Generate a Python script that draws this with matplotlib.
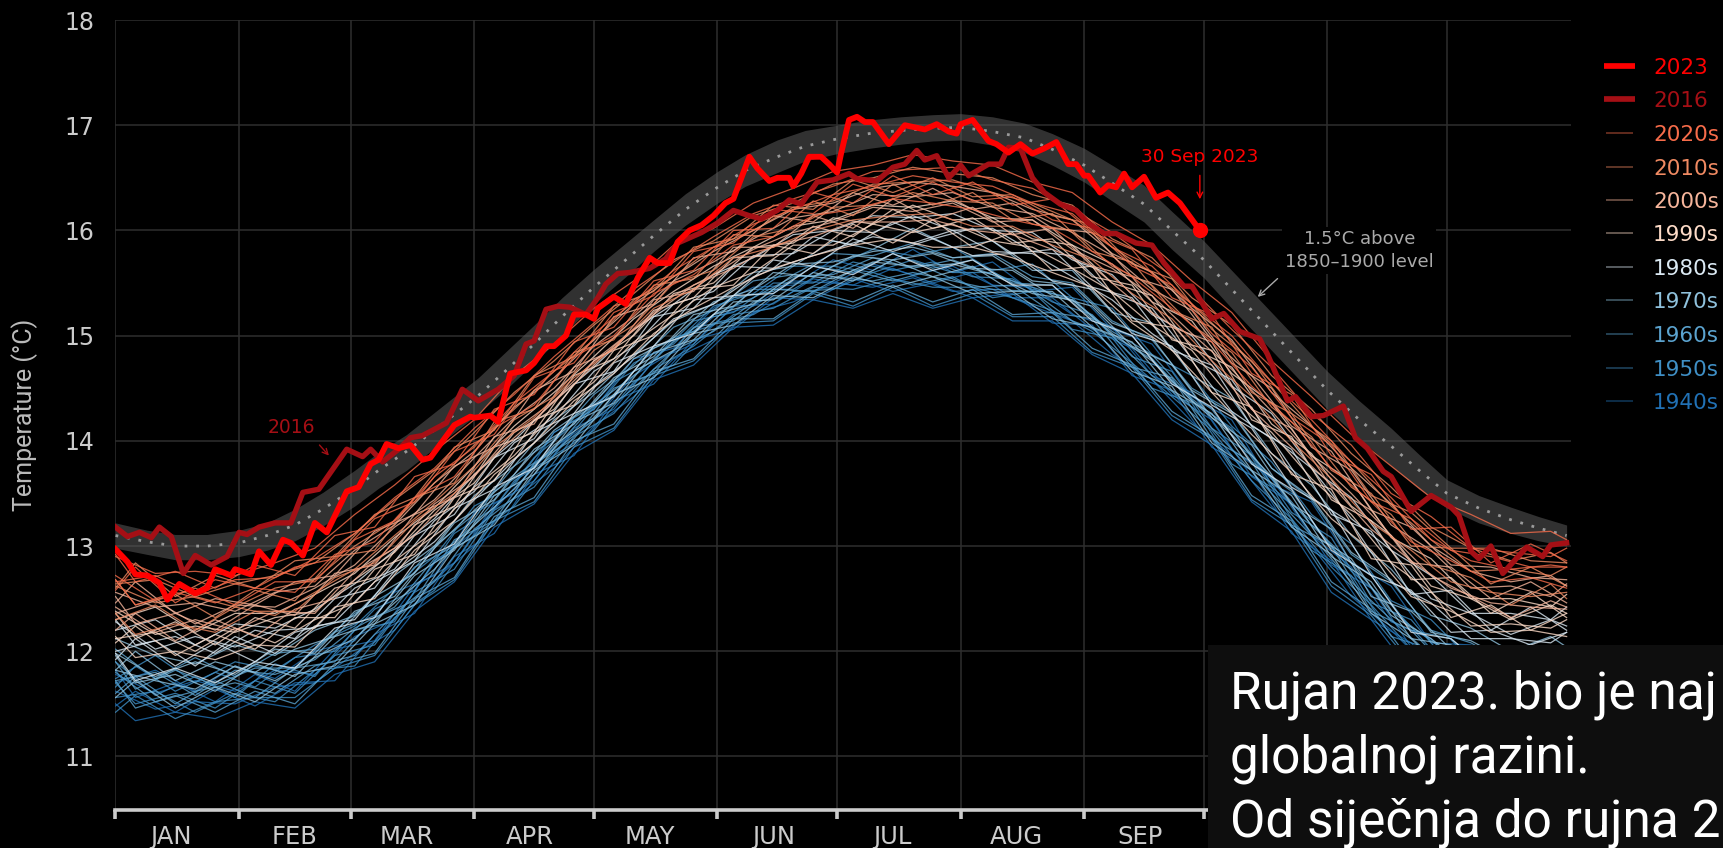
import matplotlib
matplotlib.use('Agg')
import matplotlib.pyplot as plt
from matplotlib.lines import Line2D
from matplotlib.patches import Rectangle

W, H = 1724, 848

month_starts = [0, 31, 59, 90, 120, 151, 181, 212, 243, 273, 304, 334]
month_names = ['JAN', 'FEB', 'MAR', 'APR', 'MAY', 'JUN', 'JUL', 'AUG', 'SEP']
y_ticks = [11, 12, 13, 14, 15, 16, 17, 18]

# 1.5C band
band_days = [0, 8, 15, 23, 31, 38, 45, 52, 60, 66, 73, 82, 91, 98, 105, 112, 120, 128, 135, 143, 151, 158, 166, 173, 181, 189, 197, 205, 212, 220, 228, 235, 243, 250, 258, 265, 273, 280, 288, 296, 304, 312, 320, 327, 334, 342, 350, 357, 364]
band_mid = [13.10, 13.04, 13.00, 13.00, 13.03, 13.10, 13.20, 13.35, 13.55, 13.72, 13.90, 14.16, 14.43, 14.67, 14.92, 15.18, 15.46, 15.72, 15.95, 16.2, 16.41, 16.57, 16.7, 16.8, 16.87, 16.92, 16.95, 16.97, 16.98, 16.94, 16.88, 16.77, 16.62, 16.45, 16.25, 16.0, 15.72, 15.44, 15.12, 14.8, 14.48, 14.2, 13.95, 13.72, 13.5, 13.36, 13.25, 13.17, 13.1]
band_high = [13.22, 13.15, 13.11, 13.11, 13.15, 13.22, 13.35, 13.51, 13.72, 13.89, 14.06, 14.33, 14.6, 14.85, 15.1, 15.36, 15.63, 15.88, 16.1, 16.35, 16.56, 16.72, 16.86, 16.95, 17.0, 17.05, 17.08, 17.1, 17.11, 17.08, 17.02, 16.92, 16.78, 16.62, 16.43, 16.18, 15.9, 15.62, 15.3, 14.98, 14.66, 14.38, 14.12, 13.87, 13.63, 13.48, 13.37, 13.28, 13.2]
band_low = [12.98, 12.92, 12.87, 12.87, 12.9, 12.96, 13.05, 13.19, 13.38, 13.55, 13.72, 13.99, 14.26, 14.49, 14.74, 15.0, 15.3, 15.56, 15.8, 16.05, 16.26, 16.42, 16.55, 16.66, 16.73, 16.78, 16.82, 16.85, 16.86, 16.81, 16.74, 16.62, 16.46, 16.28, 16.08, 15.82, 15.55, 15.26, 14.94, 14.62, 14.3, 14.02, 13.76, 13.54, 13.36, 13.22, 13.12, 13.05, 13.0]

days_2023 = [0, 3, 5, 8, 11, 13, 16, 20, 23, 25, 29, 30, 34, 36, 39, 42, 44, 47, 50, 53, 58, 61, 64, 66, 68, 71, 74, 77, 79, 85, 89, 90, 94, 96, 99, 103, 105, 108, 110, 113, 115, 118, 120, 121, 125, 128, 131, 134, 136, 139, 141, 144, 147, 150, 153, 155, 159, 161, 164, 166, 169, 170, 172, 174, 177, 179, 181, 182, 184, 186, 188, 190, 194, 198, 203, 206, 209, 211, 212, 215, 219, 221, 224, 227, 230, 233, 236, 239, 241, 243, 244, 247, 249, 251, 253, 255, 258, 261, 264, 267, 272]
temp_2023 = [12.97, 12.85, 12.73, 12.72, 12.65, 12.49, 12.64, 12.55, 12.6, 12.78, 12.72, 12.78, 12.73, 12.95, 12.82, 13.06, 13.03, 12.91, 13.22, 13.13, 13.52, 13.56, 13.78, 13.82, 13.97, 13.93, 13.96, 13.82, 13.84, 14.15, 14.23, 14.22, 14.24, 14.18, 14.64, 14.67, 14.74, 14.9, 14.9, 15.0, 15.2, 15.2, 15.16, 15.26, 15.37, 15.3, 15.55, 15.74, 15.69, 15.69, 15.89, 16.0, 16.05, 16.14, 16.26, 16.3, 16.7, 16.59, 16.47, 16.5, 16.5, 16.42, 16.54, 16.7, 16.7, 16.63, 16.55, 16.73, 17.05, 17.08, 17.03, 17.03, 16.82, 17.0, 16.96, 17.01, 16.94, 16.92, 17.01, 17.05, 16.85, 16.82, 16.74, 16.82, 16.73, 16.78, 16.84, 16.63, 16.63, 16.52, 16.52, 16.36, 16.43, 16.41, 16.54, 16.41, 16.51, 16.31, 16.36, 16.26, 16.0]

# 2016
days_2016 = [0, 3, 6, 9, 11, 14, 17, 20, 24, 28, 31, 33, 36, 40, 44, 47, 51, 58, 62, 64, 67, 71, 74, 77, 83, 87, 91, 96, 100, 103, 105, 108, 111, 114, 118, 121, 123, 126, 129, 134, 138, 141, 144, 147, 151, 155, 159, 162, 166, 169, 172, 176, 180, 184, 186, 191, 195, 198, 201, 203, 206, 209, 212, 214, 219, 222, 224, 227, 230, 233, 237, 241, 244, 248, 251, 256, 260, 263, 268, 270, 275, 278, 282, 287, 289, 294, 296, 300, 303, 308, 311, 314, 318, 320, 325, 330, 335, 337, 340, 342, 345, 348, 354, 358, 360, 364]
temp_2016 = [13.18, 13.09, 13.13, 13.08, 13.18, 13.09, 12.74, 12.91, 12.82, 12.9, 13.13, 13.11, 13.18, 13.22, 13.22, 13.51, 13.54, 13.92, 13.85, 13.92, 13.8, 13.92, 14.03, 14.05, 14.17, 14.49, 14.38, 14.49, 14.62, 14.92, 14.95, 15.25, 15.28, 15.27, 15.2, 15.36, 15.49, 15.59, 15.6, 15.64, 15.73, 15.88, 15.93, 15.98, 16.07, 16.19, 16.14, 16.11, 16.19, 16.29, 16.25, 16.46, 16.48, 16.54, 16.49, 16.47, 16.6, 16.63, 16.76, 16.67, 16.71, 16.5, 16.62, 16.52, 16.63, 16.63, 16.79, 16.78, 16.5, 16.36, 16.25, 16.19, 16.07, 15.97, 15.97, 15.88, 15.86, 15.69, 15.47, 15.47, 15.16, 15.21, 15.04, 14.97, 14.82, 14.38, 14.42, 14.23, 14.24, 14.33, 14.03, 13.93, 13.71, 13.66, 13.33, 13.48, 13.37, 13.29, 12.95, 12.88, 13.0, 12.74, 12.99, 12.9, 13.01, 13.03]

# the other years sit on one of two day grids
grid_a = [0, 10, 20, 30, 40, 50, 60, 70, 80, 90, 100, 110, 120, 130, 140, 150, 160, 170, 180, 190, 200, 210, 220, 230, 240, 250, 260, 270, 280, 290, 300, 310, 320, 330, 340, 350, 360, 364]
grid_b = [0, 5, 15, 25, 35, 45, 55, 65, 75, 85, 95, 105, 115, 125, 135, 145, 155, 165, 175, 185, 195, 205, 215, 225, 235, 245, 255, 265, 275, 285, 295, 305, 315, 325, 335, 345, 355, 364]

years_1940s_a = [
    [11.62, 11.45, 11.52, 11.5, 11.66, 11.7, 11.98, 12.2, 12.68, 13.0, 13.45, 13.74, 14.14, 14.42, 14.78, 14.96, 15.22, 15.32, 15.5, 15.46, 15.55, 15.42, 15.44, 15.28, 15.14, 14.82, 14.58, 14.18, 13.86, 13.38, 13.0, 12.52, 12.2, 11.82, 11.66, 11.52, 11.65, 11.62],
    [11.78, 11.6, 11.72, 11.62, 11.82, 11.78, 12.14, 12.3, 12.84, 13.14, 13.55, 13.94, 14.2, 14.62, 14.85, 15.18, 15.28, 15.52, 15.5, 15.68, 15.58, 15.66, 15.48, 15.46, 15.2, 15.08, 14.62, 14.46, 13.92, 13.64, 13.1, 12.8, 12.28, 12.12, 11.72, 11.8, 11.74, 11.8],
    [11.7, 11.82, 11.62, 11.86, 11.74, 12.0, 12.1, 12.56, 12.72, 13.32, 13.5, 14.08, 14.3, 14.78, 14.88, 15.26, 15.46, 15.48, 15.72, 15.62, 15.82, 15.6, 15.7, 15.42, 15.46, 15.06, 14.92, 14.42, 14.2, 13.58, 13.42, 12.84, 12.62, 12.08, 12.06, 11.76, 11.98, 11.84],
]
years_1950s_a = [
    [11.56, 11.62, 11.42, 11.6, 11.52, 11.82, 11.86, 12.32, 12.58, 13.1, 13.38, 13.86, 14.1, 14.56, 14.72, 15.12, 15.2, 15.42, 15.44, 15.6, 15.48, 15.56, 15.36, 15.42, 15.06, 14.98, 14.5, 14.36, 13.78, 13.56, 12.96, 12.72, 12.14, 12.02, 11.58, 11.7, 11.58, 11.68],
    [11.9, 11.58, 11.76, 11.56, 11.88, 11.76, 12.2, 12.28, 12.86, 13.1, 13.62, 13.86, 14.32, 14.54, 14.98, 15.1, 15.44, 15.44, 15.66, 15.6, 15.72, 15.6, 15.6, 15.44, 15.36, 15.0, 14.78, 14.38, 14.12, 13.56, 13.24, 12.76, 12.44, 12.02, 11.9, 11.7, 11.88, 11.74],
    [11.74, 11.96, 11.7, 11.9, 11.82, 12.06, 12.24, 12.6, 12.9, 13.38, 13.58, 14.08, 14.3, 14.74, 14.92, 15.28, 15.4, 15.66, 15.66, 15.82, 15.76, 15.84, 15.62, 15.68, 15.36, 15.26, 14.82, 14.62, 14.14, 13.8, 13.3, 13.02, 12.48, 12.3, 11.92, 11.98, 11.84, 11.92],
]
years_1960s_a = [
    [11.8, 11.52, 11.62, 11.7, 11.6, 11.86, 11.96, 12.36, 12.66, 13.16, 13.46, 13.9, 14.2, 14.5, 14.86, 15.04, 15.32, 15.38, 15.56, 15.52, 15.6, 15.52, 15.44, 15.42, 15.14, 15.0, 14.62, 14.32, 13.92, 13.5, 13.1, 12.66, 12.3, 11.96, 11.74, 11.64, 11.76, 11.7],
    [11.72, 11.8, 11.58, 11.82, 11.78, 11.92, 12.22, 12.42, 12.88, 13.2, 13.66, 13.92, 14.34, 14.62, 14.94, 15.2, 15.36, 15.56, 15.58, 15.74, 15.64, 15.72, 15.58, 15.46, 15.34, 15.04, 14.82, 14.4, 14.1, 13.64, 13.2, 12.84, 12.38, 12.1, 11.84, 11.78, 11.82, 11.9],
    [12.02, 11.74, 11.94, 11.76, 11.98, 12.02, 12.36, 12.58, 13.0, 13.3, 13.76, 14.02, 14.44, 14.72, 15.08, 15.24, 15.52, 15.58, 15.78, 15.76, 15.88, 15.74, 15.78, 15.56, 15.5, 15.14, 14.96, 14.5, 14.28, 13.74, 13.44, 12.92, 12.66, 12.2, 12.08, 11.86, 12.02, 11.96],
]
years_1970s_a = [
    [11.82, 11.72, 11.64, 11.86, 11.72, 11.94, 12.12, 12.46, 12.78, 13.2, 13.54, 13.96, 14.22, 14.66, 14.86, 15.2, 15.3, 15.58, 15.54, 15.7, 15.66, 15.68, 15.58, 15.4, 15.34, 15.02, 14.76, 14.38, 14.06, 13.66, 13.12, 12.88, 12.34, 12.12, 11.82, 11.82, 11.78, 11.88],
    [11.98, 11.76, 11.9, 11.78, 12.02, 11.98, 12.38, 12.52, 12.98, 13.34, 13.68, 14.1, 14.36, 14.78, 14.98, 15.32, 15.44, 15.68, 15.7, 15.8, 15.84, 15.74, 15.76, 15.52, 15.48, 15.12, 14.98, 14.48, 14.26, 13.74, 13.46, 12.94, 12.68, 12.18, 12.1, 11.9, 12.04, 11.96],
    [12.12, 11.96, 11.88, 12.06, 11.96, 12.2, 12.34, 12.72, 13.0, 13.48, 13.76, 14.2, 14.46, 14.82, 15.14, 15.3, 15.6, 15.66, 15.9, 15.82, 16.02, 15.84, 15.9, 15.62, 15.62, 15.22, 15.12, 14.62, 14.4, 13.88, 13.58, 13.1, 12.78, 12.34, 12.22, 12.0, 12.14, 12.04],
]
years_1980s_a = [
    [12.0, 12.1, 11.86, 12.14, 11.98, 12.24, 12.3, 12.76, 13.04, 13.44, 13.82, 14.14, 14.52, 14.8, 15.16, 15.3, 15.56, 15.7, 15.82, 15.94, 15.88, 16.0, 15.8, 15.78, 15.56, 15.34, 15.02, 14.76, 14.28, 14.02, 13.46, 13.22, 12.66, 12.46, 12.12, 12.12, 12.08, 12.18],
    [12.28, 12.02, 12.14, 12.04, 12.2, 12.22, 12.6, 12.78, 13.24, 13.52, 13.98, 14.22, 14.66, 14.9, 15.3, 15.42, 15.76, 15.78, 16.0, 15.98, 16.14, 16.0, 16.02, 15.8, 15.76, 15.4, 15.26, 14.78, 14.58, 14.04, 13.74, 13.26, 12.96, 12.5, 12.36, 12.16, 12.3, 12.24],
    [12.2, 12.3, 12.06, 12.26, 12.22, 12.4, 12.64, 12.96, 13.26, 13.68, 14.0, 14.38, 14.7, 15.06, 15.3, 15.58, 15.74, 15.96, 16.0, 16.14, 16.12, 16.16, 16.0, 15.98, 15.72, 15.58, 15.2, 15.0, 14.52, 14.26, 13.74, 13.46, 12.96, 12.72, 12.36, 12.36, 12.3, 12.42],
]
years_1990s_a = [
    [12.12, 12.18, 12.0, 12.22, 12.08, 12.3, 12.46, 12.86, 13.14, 13.56, 13.86, 14.26, 14.56, 14.94, 15.2, 15.46, 15.6, 15.86, 15.86, 16.06, 15.98, 16.06, 15.9, 15.84, 15.64, 15.42, 15.1, 14.86, 14.4, 14.08, 13.64, 13.3, 12.84, 12.56, 12.24, 12.26, 12.22, 12.3],
    [12.38, 12.16, 12.24, 12.18, 12.32, 12.38, 12.68, 12.94, 13.34, 13.6, 14.08, 14.3, 14.76, 15.0, 15.4, 15.5, 15.84, 15.88, 16.12, 16.06, 16.24, 16.1, 16.12, 15.92, 15.86, 15.5, 15.38, 14.88, 14.7, 14.16, 13.88, 13.38, 13.1, 12.62, 12.5, 12.3, 12.44, 12.36],
    [12.3, 12.42, 12.18, 12.36, 12.36, 12.54, 12.74, 13.08, 13.36, 13.76, 14.14, 14.46, 14.8, 15.16, 15.42, 15.66, 15.84, 16.04, 16.1, 16.24, 16.22, 16.28, 16.12, 16.1, 15.86, 15.68, 15.32, 15.14, 14.64, 14.36, 13.86, 13.62, 13.08, 12.88, 12.5, 12.5, 12.42, 12.54],
]
years_2000s_a = [
    [12.42, 12.18, 12.3, 12.2, 12.38, 12.36, 12.76, 12.98, 13.4, 13.66, 14.1, 14.38, 14.76, 15.06, 15.38, 15.58, 15.82, 15.98, 16.08, 16.22, 16.18, 16.26, 16.08, 16.1, 15.82, 15.64, 15.38, 15.02, 14.68, 14.28, 13.86, 13.5, 13.1, 12.72, 12.52, 12.32, 12.48, 12.42],
    [12.36, 12.48, 12.26, 12.44, 12.42, 12.6, 12.82, 13.18, 13.44, 13.84, 14.22, 14.5, 14.9, 15.18, 15.52, 15.7, 15.92, 16.12, 16.18, 16.34, 16.32, 16.36, 16.22, 16.16, 15.98, 15.76, 15.44, 15.24, 14.74, 14.5, 13.94, 13.72, 13.2, 12.96, 12.6, 12.62, 12.52, 12.64],
    [12.56, 12.42, 12.46, 12.38, 12.56, 12.62, 12.96, 13.2, 13.6, 13.9, 14.32, 14.6, 14.96, 15.3, 15.56, 15.8, 16.0, 16.2, 16.26, 16.4, 16.46, 16.42, 16.36, 16.2, 16.1, 15.78, 15.6, 15.26, 14.96, 14.46, 14.14, 13.74, 13.4, 13.0, 12.76, 12.66, 12.72, 12.62],
]
years_2010s_a = [
    [12.3, 12.44, 12.2, 12.42, 12.34, 12.56, 12.78, 13.1, 13.42, 13.76, 14.2, 14.42, 14.86, 15.1, 15.5, 15.62, 15.94, 16.02, 16.22, 16.24, 16.36, 16.28, 16.26, 16.06, 16.0, 15.66, 15.48, 15.1, 14.84, 14.32, 14.04, 13.56, 13.3, 12.82, 12.7, 12.44, 12.64, 12.5],
    [12.62, 12.46, 12.52, 12.42, 12.6, 12.68, 13.0, 13.24, 13.6, 13.96, 14.3, 14.66, 14.96, 15.34, 15.56, 15.84, 16.0, 16.22, 16.28, 16.44, 16.46, 16.48, 16.36, 16.26, 16.1, 15.84, 15.6, 15.3, 14.94, 14.56, 14.14, 13.8, 13.38, 13.06, 12.76, 12.78, 12.72, 12.8],
    [12.64, 12.68, 12.52, 12.64, 12.72, 12.84, 13.12, 13.44, 13.72, 14.08, 14.46, 14.76, 15.1, 15.4, 15.72, 15.9, 16.14, 16.26, 16.44, 16.5, 16.6, 16.54, 16.5, 16.34, 16.24, 15.92, 15.74, 15.36, 15.1, 14.62, 14.3, 13.88, 13.56, 13.18, 12.98, 12.86, 12.94, 12.84],
]
years_2020s_a = [
    [12.72, 12.48, 12.6, 12.44, 12.66, 12.66, 13.06, 13.24, 13.66, 13.94, 14.36, 14.66, 15.02, 15.32, 15.62, 15.84, 16.06, 16.2, 16.34, 16.42, 16.52, 16.46, 16.42, 16.26, 16.16, 15.84, 15.66, 15.3, 15.0, 14.56, 14.2, 13.8, 13.46, 13.06, 12.86, 12.78, 12.82, 12.8],
    [12.66, 12.72, 12.54, 12.68, 12.7, 12.88, 13.12, 13.46, 13.74, 14.12, 14.44, 14.8, 15.12, 15.44, 15.7, 15.94, 16.16, 16.3, 16.42, 16.56, 16.58, 16.6, 16.48, 16.4, 16.2, 15.98, 15.7, 15.44, 15.06, 14.7, 14.26, 13.96, 13.5, 13.28, 12.98, 12.94, 12.9, 12.98],
    [12.9, 12.74, 12.76, 12.72, 12.84, 12.98, 13.3, 13.58, 13.9, 14.2, 14.62, 14.92, 15.26, 15.52, 15.86, 16.02, 16.26, 16.4, 16.56, 16.62, 16.72, 16.66, 16.62, 16.46, 16.36, 16.08, 15.86, 15.52, 15.22, 14.76, 14.42, 14.06, 13.76, 13.46, 13.3, 13.12, 13.14, 13.06],
]

years_1940s_b = [
    [11.5, 11.34, 11.42, 11.36, 11.52, 11.46, 11.78, 11.9, 12.38, 12.66, 13.18, 13.4, 13.88, 14.1, 14.58, 14.72, 15.08, 15.1, 15.34, 15.26, 15.4, 15.26, 15.36, 15.14, 15.14, 14.82, 14.64, 14.2, 13.96, 13.42, 13.14, 12.56, 12.3, 11.8, 11.7, 11.4, 11.56, 11.44],
    [11.48, 11.62, 11.42, 11.64, 11.48, 11.7, 11.72, 12.16, 12.36, 12.9, 13.12, 13.68, 13.86, 14.38, 14.54, 14.96, 15.06, 15.36, 15.34, 15.54, 15.42, 15.5, 15.36, 15.4, 15.12, 15.1, 14.62, 14.48, 13.94, 13.72, 13.12, 12.86, 12.3, 12.08, 11.68, 11.72, 11.56, 11.68],
    [11.82, 11.56, 11.7, 11.52, 11.78, 11.62, 12.02, 12.1, 12.62, 12.84, 13.4, 13.62, 14.12, 14.3, 14.76, 14.92, 15.28, 15.3, 15.54, 15.48, 15.64, 15.5, 15.6, 15.36, 15.36, 15.06, 14.88, 14.44, 14.2, 13.66, 13.4, 12.82, 12.6, 12.04, 11.98, 11.68, 11.86, 11.7],
]
years_1950s_b = [
    [11.42, 11.58, 11.36, 11.52, 11.56, 11.56, 11.84, 11.96, 12.44, 12.68, 13.24, 13.42, 13.94, 14.12, 14.62, 14.76, 15.12, 15.14, 15.4, 15.28, 15.46, 15.28, 15.4, 15.18, 15.18, 14.84, 14.7, 14.24, 14.02, 13.44, 13.2, 12.62, 12.34, 11.88, 11.72, 11.5, 11.52, 11.56],
    [11.7, 11.5, 11.6, 11.46, 11.72, 11.6, 11.96, 12.06, 12.56, 12.78, 13.34, 13.56, 14.04, 14.26, 14.68, 14.9, 15.2, 15.26, 15.46, 15.44, 15.54, 15.46, 15.46, 15.36, 15.24, 15.04, 14.74, 14.42, 14.1, 13.62, 13.26, 12.8, 12.44, 12.02, 11.84, 11.62, 11.74, 11.64],
    [11.66, 11.86, 11.62, 11.8, 11.66, 11.94, 12.0, 12.4, 12.58, 13.12, 13.36, 13.84, 14.16, 14.56, 14.76, 15.14, 15.22, 15.5, 15.5, 15.7, 15.62, 15.7, 15.56, 15.54, 15.32, 15.2, 14.8, 14.66, 14.12, 13.86, 13.32, 13.08, 12.46, 12.3, 11.86, 11.94, 11.78, 11.9],
]
years_1960s_b = [
    [11.72, 11.46, 11.58, 11.42, 11.62, 11.5, 11.88, 11.98, 12.5, 12.7, 13.28, 13.46, 14.0, 14.16, 14.66, 14.78, 15.16, 15.16, 15.42, 15.32, 15.48, 15.32, 15.44, 15.2, 15.22, 14.88, 14.72, 14.28, 14.04, 13.48, 13.24, 12.66, 12.4, 11.9, 11.8, 11.52, 11.66, 11.52],
    [11.6, 11.76, 11.5, 11.72, 11.56, 11.84, 11.9, 12.32, 12.48, 13.06, 13.24, 13.78, 14.02, 14.5, 14.64, 15.08, 15.14, 15.44, 15.42, 15.62, 15.52, 15.62, 15.46, 15.48, 15.22, 15.16, 14.7, 14.6, 14.02, 13.8, 13.2, 13.0, 12.38, 12.2, 11.8, 11.82, 11.68, 11.8],
    [11.9, 11.64, 11.82, 11.68, 11.84, 11.84, 12.18, 12.34, 12.8, 13.0, 13.52, 13.76, 14.22, 14.44, 14.88, 15.04, 15.36, 15.42, 15.66, 15.6, 15.78, 15.64, 15.72, 15.5, 15.48, 15.16, 15.0, 14.56, 14.3, 13.8, 13.52, 12.98, 12.72, 12.2, 12.12, 11.8, 11.98, 11.84],
]
years_1970s_b = [
    [11.56, 11.72, 11.46, 11.66, 11.52, 11.78, 11.86, 12.26, 12.44, 12.98, 13.2, 13.72, 13.96, 14.44, 14.6, 15.02, 15.1, 15.38, 15.36, 15.56, 15.46, 15.56, 15.4, 15.42, 15.16, 15.08, 14.66, 14.52, 13.98, 13.72, 13.18, 12.92, 12.36, 12.12, 11.76, 11.76, 11.64, 11.72],
    [11.96, 11.7, 11.78, 11.62, 11.88, 11.76, 12.14, 12.26, 12.72, 12.96, 13.48, 13.68, 14.18, 14.36, 14.84, 14.96, 15.32, 15.34, 15.6, 15.52, 15.72, 15.56, 15.66, 15.42, 15.42, 15.08, 14.94, 14.48, 14.26, 13.72, 13.48, 12.9, 12.66, 12.12, 12.06, 11.72, 11.92, 11.76],
    [11.82, 12.0, 11.72, 11.9, 11.8, 12.02, 12.14, 12.52, 12.74, 13.22, 13.44, 13.92, 14.16, 14.6, 14.8, 15.2, 15.28, 15.6, 15.56, 15.76, 15.72, 15.78, 15.64, 15.62, 15.38, 15.28, 14.9, 14.72, 14.22, 13.96, 13.4, 13.16, 12.52, 12.38, 12.02, 12.02, 11.92, 12.0],
]
years_1980s_b = [
    [11.98, 11.72, 11.84, 11.7, 11.9, 11.84, 12.22, 12.32, 12.84, 13.02, 13.56, 13.74, 14.26, 14.42, 14.9, 15.02, 15.38, 15.4, 15.66, 15.58, 15.78, 15.62, 15.72, 15.48, 15.48, 15.14, 15.0, 14.54, 14.32, 13.78, 13.54, 12.96, 12.72, 12.18, 12.12, 11.8, 11.98, 11.82],
    [11.92, 12.12, 11.86, 12.08, 11.9, 12.18, 12.28, 12.66, 12.86, 13.36, 13.54, 14.08, 14.26, 14.74, 14.9, 15.34, 15.38, 15.72, 15.66, 15.92, 15.8, 15.92, 15.76, 15.78, 15.52, 15.44, 15.02, 14.9, 14.34, 14.12, 13.56, 13.34, 12.72, 12.58, 12.18, 12.2, 12.06, 12.18],
    [12.3, 12.06, 12.14, 11.98, 12.2, 12.12, 12.5, 12.6, 13.1, 13.3, 13.84, 14.02, 14.54, 14.66, 15.18, 15.26, 15.66, 15.64, 15.94, 15.86, 16.08, 15.92, 16.02, 15.78, 15.82, 15.46, 15.36, 14.86, 14.72, 14.14, 13.92, 13.3, 13.14, 12.54, 12.58, 12.2, 12.42, 12.2],
]
years_1990s_b = [
    [12.14, 11.94, 12.0, 11.92, 12.06, 12.04, 12.42, 12.5, 12.96, 13.24, 13.68, 13.98, 14.38, 14.64, 15.02, 15.26, 15.46, 15.64, 15.76, 15.86, 15.92, 15.84, 15.84, 15.74, 15.6, 15.46, 15.12, 14.86, 14.46, 14.06, 13.7, 13.26, 12.96, 12.52, 12.38, 12.18, 12.2, 12.14],
    [12.08, 12.24, 11.96, 12.16, 12.02, 12.32, 12.32, 12.78, 12.92, 13.46, 13.62, 14.2, 14.34, 14.86, 15.0, 15.44, 15.48, 15.86, 15.78, 16.06, 15.88, 16.1, 15.84, 15.98, 15.62, 15.66, 15.14, 15.08, 14.46, 14.32, 13.68, 13.54, 12.88, 12.82, 12.32, 12.44, 12.2, 12.36],
    [12.36, 12.12, 12.28, 12.06, 12.32, 12.22, 12.6, 12.7, 13.2, 13.38, 13.94, 14.08, 14.62, 14.78, 15.24, 15.36, 15.74, 15.76, 16.04, 15.94, 16.2, 16.02, 16.12, 15.88, 15.92, 15.56, 15.48, 14.96, 14.86, 14.2, 14.04, 13.44, 13.24, 12.68, 12.7, 12.36, 12.56, 12.32],
]
years_2000s_b = [
    [12.2, 12.36, 12.1, 12.3, 12.14, 12.4, 12.5, 12.86, 13.1, 13.5, 13.86, 14.2, 14.54, 14.9, 15.2, 15.48, 15.64, 15.86, 15.94, 16.08, 16.08, 16.1, 16.0, 15.96, 15.82, 15.66, 15.34, 15.1, 14.72, 14.3, 13.94, 13.58, 13.16, 12.86, 12.6, 12.46, 12.42, 12.4],
    [12.52, 12.26, 12.36, 12.2, 12.44, 12.34, 12.74, 12.82, 13.3, 13.46, 14.04, 14.16, 14.7, 14.86, 15.34, 15.42, 15.84, 15.84, 16.14, 16.02, 16.3, 16.1, 16.22, 15.96, 16.02, 15.66, 15.56, 15.08, 14.94, 14.3, 14.12, 13.56, 13.34, 12.84, 12.8, 12.5, 12.66, 12.46],
    [12.46, 12.66, 12.36, 12.5, 12.44, 12.66, 12.72, 13.14, 13.3, 13.76, 13.94, 14.48, 14.66, 15.18, 15.3, 15.74, 15.8, 16.14, 16.08, 16.36, 16.24, 16.4, 16.2, 16.26, 16.02, 15.98, 15.56, 15.44, 14.96, 14.62, 14.14, 13.9, 13.34, 13.18, 12.82, 12.8, 12.7, 12.68],
]
years_2010s_b = [
    [12.36, 12.16, 12.26, 12.18, 12.38, 12.38, 12.7, 12.84, 13.24, 13.5, 13.94, 14.22, 14.6, 14.88, 15.26, 15.44, 15.74, 15.84, 16.0, 16.1, 16.14, 16.16, 16.04, 16.04, 15.86, 15.72, 15.4, 15.16, 14.76, 14.42, 14.0, 13.64, 13.22, 12.96, 12.66, 12.56, 12.52, 12.56],
    [12.68, 12.44, 12.54, 12.32, 12.58, 12.48, 12.9, 12.96, 13.46, 13.6, 14.18, 14.3, 14.84, 14.96, 15.48, 15.54, 15.96, 15.94, 16.28, 16.14, 16.44, 16.24, 16.36, 16.1, 16.16, 15.8, 15.7, 15.24, 15.08, 14.46, 14.26, 13.72, 13.5, 13.0, 12.98, 12.64, 12.8, 12.62],
    [12.6, 12.84, 12.52, 12.72, 12.6, 12.86, 12.9, 13.3, 13.46, 13.94, 14.1, 14.62, 14.8, 15.28, 15.42, 15.84, 15.92, 16.24, 16.2, 16.48, 16.36, 16.5, 16.32, 16.34, 16.14, 16.06, 15.68, 15.54, 15.06, 14.76, 14.26, 14.0, 13.48, 13.32, 12.98, 12.98, 12.86, 12.84],
]
years_2020s_b = [
    [12.68, 12.44, 12.56, 12.46, 12.6, 12.56, 12.92, 13.04, 13.46, 13.66, 14.12, 14.34, 14.8, 15.0, 15.4, 15.58, 15.86, 15.94, 16.14, 16.2, 16.3, 16.26, 16.2, 16.1, 16.02, 15.8, 15.56, 15.26, 14.94, 14.52, 14.18, 13.74, 13.42, 13.04, 12.86, 12.66, 12.7, 12.6],
    [12.58, 12.8, 12.46, 12.68, 12.6, 12.8, 12.88, 13.26, 13.42, 13.9, 14.06, 14.6, 14.74, 15.22, 15.38, 15.8, 15.88, 16.2, 16.16, 16.44, 16.32, 16.46, 16.28, 16.32, 16.1, 16.02, 15.66, 15.48, 15.02, 14.7, 14.22, 13.96, 13.42, 13.26, 12.96, 12.9, 12.8, 12.8],
    [12.92, 12.66, 12.76, 12.6, 12.82, 12.72, 13.1, 13.18, 13.66, 13.78, 14.3, 14.44, 14.94, 15.08, 15.52, 15.62, 16.0, 16.02, 16.36, 16.26, 16.52, 16.34, 16.46, 16.24, 16.3, 15.98, 15.82, 15.36, 15.2, 14.64, 14.44, 13.86, 13.68, 13.16, 13.18, 12.84, 13.02, 12.86],
]

decade_names = ['1940s', '1950s', '1960s', '1970s', '1980s', '1990s', '2000s', '2010s', '2020s']
lines_a = [years_1940s_a, years_1950s_a, years_1960s_a, years_1970s_a, years_1980s_a, years_1990s_a, years_2000s_a, years_2010s_a, years_2020s_a]
lines_b = [years_1940s_b, years_1950s_b, years_1960s_b, years_1970s_b, years_1980s_b, years_1990s_b, years_2000s_b, years_2010s_b, years_2020s_b]
decade_colors = ['#2171b5', '#3f8fc5', '#5ba3cf', '#8fc1dc', '#dbe9f3', '#fddbc7', '#f6b59b', '#f08a62', '#f76c4a']

fig = plt.figure(figsize=(W / 100, H / 100), dpi=100, facecolor='black')
ax = fig.add_axes([115.5 / W, (H - 809.6) / H, (1571 - 115.5) / W, (809.6 - 20) / H], facecolor='black')
ax.set_xlim(0, 365.1)
ax.set_ylim(10.495, 18)

for s in ['top', 'left', 'right']:
    ax.spines[s].set_visible(False)
ax.spines['bottom'].set_color('#cccccc')
ax.spines['bottom'].set_linewidth(2.6)

ax.set_axisbelow(True)
ax.set_yticks(y_ticks)
ax.set_xticks(month_starts)
ax.set_xticklabels([])
ax.set_xticks([m + 14 for m in month_starts[:9]], labels=month_names, minor=True)
ax.grid(True, which='major', color='#2e2e2e', lw=1.1)
ax.tick_params(axis='x', which='major', length=6.5, width=2.6, color='#cccccc')
ax.tick_params(axis='x', which='minor', length=0, pad=11, labelsize=17.5, labelcolor='#cccccc')
ax.tick_params(axis='y', length=0, pad=15, labelsize=17, labelcolor='#cccccc')
ax.set_ylabel('Temperature (°C)', family='Roboto', color='#bbbbbb', fontsize=18)
ax.yaxis.set_label_coords((38 - 115.5) / (1571 - 115.5), (809.6 - 415) / (809.6 - 20))

# band and dotted level
ax.fill_between(band_days, band_low, band_high, color='#5a5a5a', alpha=0.55, lw=0, zorder=1.5)
ax.plot(band_days, band_mid, color='#9a9a9a', lw=2, ls=(0, (1, 3.2)), zorder=1.6)

# other years, old decades first
for lines1, lines2, col in zip(lines_a, lines_b, decade_colors):
    for vals in lines1:
        ax.plot(grid_a, vals, color=col, lw=0.9, alpha=0.8, zorder=2)
    for vals in lines2:
        ax.plot(grid_b, vals, color=col, lw=0.9, alpha=0.8, zorder=2)

ax.plot(days_2016, temp_2016, color='#a50f15', lw=3.9, zorder=3, solid_joinstyle='round')
ax.plot(days_2023, temp_2023, color='#ff0000', lw=4.2, zorder=4, solid_joinstyle='round')
ax.plot([days_2023[-1]], [temp_2023[-1]], 'o', color='#ff0000', ms=10, zorder=5)

# annotations
ax.text(44, 14.13, '2016', color='#a50f15', fontsize=13.5, ha='center', va='center')
ax.annotate('', xy=(54, 13.84), xytext=(50.7, 13.98), arrowprops=dict(arrowstyle='->', color='#a50f15', lw=1))
ax.text(272, 16.7, '30 Sep 2023', color='#ff0000', fontsize=13.3, ha='center', va='center')
ax.annotate('', xy=(272, 16.27), xytext=(272, 16.55), arrowprops=dict(arrowstyle='->', color='#ff0000', lw=1))
ax.text(312, 15.81, '1.5°C above\n1850–1900 level', color='#aaaaaa', fontsize=13, ha='center', va='center', linespacing=1.35,
        bbox=dict(facecolor='black', edgecolor='none', pad=2), zorder=2.5)
ax.annotate('', xy=(286, 15.35), xytext=(292, 15.56), arrowprops=dict(arrowstyle='->', color='#aaaaaa', lw=1))

# legend, by hand because each label has its own colour
leg_names = ['2023', '2016'] + decade_names[::-1]
leg_colors = ['#ff0000', '#a50f15'] + decade_colors[::-1]
leg_y = [66, 99, 133, 167, 200, 233, 267, 300, 334, 368, 401]
for name, col, y in zip(leg_names, leg_colors, leg_y):
    thick = name in ('2023', '2016')
    x0, x1 = (1604, 1635) if thick else (1606, 1633)
    fig.add_artist(Line2D([x0 / W, x1 / W], [1 - y / H, 1 - y / H], color=col, lw=4.1 if thick else 1.1,
                          alpha=1 if thick else 0.5, solid_capstyle='butt'))
    fig.text(1653 / W, 1 - y / H, name, color=col, fontsize=15.5, ha='left', va='center_baseline')

# dark caption box over the lower right corner
fig.add_artist(Rectangle((1208 / W, 0), (W - 1208) / W, (H - 645) / H, transform=fig.transFigure,
                         facecolor='#0e0e0e', edgecolor='none', zorder=10))
caption = ['Rujan 2023. bio je naj', 'globalnoj razini.', 'Od siječnja do rujna 2']
for line, y in zip(caption, [709, 773, 837]):
    fig.text(1230.5 / W, 1 - y / H, line, color='white', family='Roboto', fontsize=37, ha='left', va='baseline', zorder=11)

fig.savefig('out.png', dpi=100, facecolor='black')
